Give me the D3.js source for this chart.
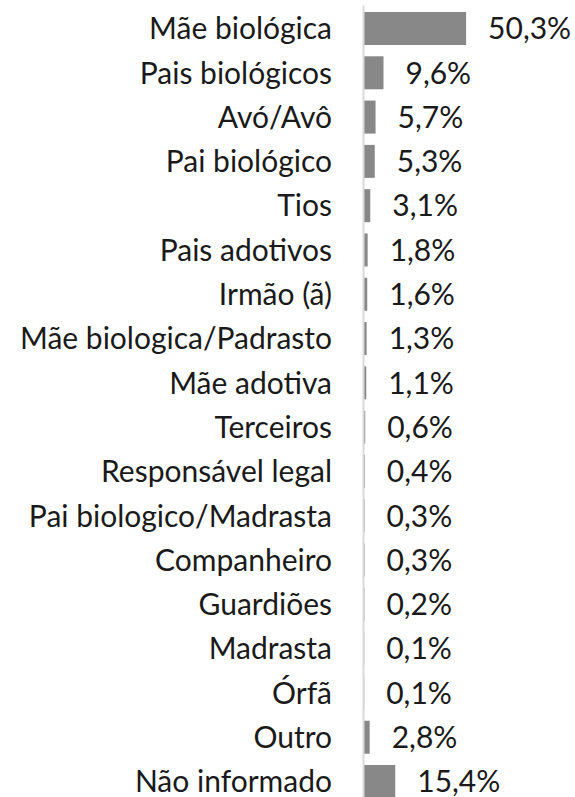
<!DOCTYPE html>
<html>
<head>
<meta charset="utf-8">
<script src="https://cdnjs.cloudflare.com/ajax/libs/d3/7.8.5/d3.min.js"></script>
<style>
  body { margin: 0; background: #fff; }
  svg { display: block; }
</style>
</head>
<body>
<div id="chart"></div>
<script>
var svgWidth = 575;
var svgHeight = 797;

// categories, top to bottom
var categories = [
  "Mãe biológica", "Pais biológicos", "Avó/Avô", "Pai biológico", "Tios",
  "Pais adotivos", "Irmão (ã)", "Mãe biologica/Padrasto", "Mãe adotiva",
  "Terceiros", "Responsável legal", "Pai biologico/Madrasta", "Companheiro",
  "Guardiões ", "Madrasta", "Órfã", "Outro", "Não informado"
];
var values = [50.3, 9.6, 5.7, 5.3, 3.1, 1.8, 1.6, 1.3, 1.1, 0.6, 0.4, 0.3, 0.3, 0.2, 0.1, 0.1, 2.8, 15.4];
var valueLabels = ["50,3%", "9,6%", "5,7%", "5,3%", "3,1%", "1,8%", "1,6%", "1,3%", "1,1%",
  "0,6%", "0,4%", "0,3%", "0,3%", "0,2%", "0,1%", "0,1%", "2,8%", "15,4%"];

var data = categories.map(function(c, i) {
  return { cat: c, value: values[i], label: valueLabels[i] };
});

var axisX = 363;
var fontFamily = "Lato, 'Open Sans', sans-serif";
var fontSize = 30;

var svg = d3.select("#chart")
  .append("svg")
  .attr("width", svgWidth)
  .attr("height", svgHeight);

// Scales
var xScale = d3.scaleLinear()
  .domain([0, 100])
  .range([axisX + 1, axisX + 1 + 203]);

var yScale = d3.scaleBand()
  .domain(categories)
  .range([5, 805])
  .paddingInner(0.255)
  .paddingOuter(0.158);

// Bars
svg.selectAll("rect.bar")
  .data(data)
  .enter().append("rect")
  .attr("class", "bar")
  .attr("x", xScale(0))
  .attr("y", d => yScale(d.cat))
  .attr("width", d => xScale(d.value) - xScale(0))
  .attr("height", yScale.bandwidth())
  .attr("fill", "#888888");

// Category axis
var leftAxis = d3.axisLeft(yScale)
  .tickSize(0)
  .tickSizeOuter(0)
  .tickPadding(31);

var axisG = svg.append("g")
  .attr("transform", `translate(${axisX}, 0)`)
  .call(leftAxis);

axisG.select(".domain")
  .attr("stroke", "#d9d9d9")
  .attr("stroke-width", 2);

axisG.selectAll(".tick text")
  .attr("font-family", fontFamily)
  .attr("font-size", fontSize)
  .attr("fill", "#1a1a1a")
  .attr("dy", "0.36em");

// Value labels
svg.selectAll("text.value")
  .data(data)
  .enter().append("text")
  .attr("class", "value")
  .attr("x", d => xScale(d.value) + 22)
  .attr("y", d => yScale(d.cat) + yScale.bandwidth() / 2)
  .attr("dy", "0.36em")
  .attr("font-family", fontFamily)
  .attr("font-size", fontSize)
  .attr("fill", "#1a1a1a")
  .text(d => d.label);
</script>
</body>
</html>
